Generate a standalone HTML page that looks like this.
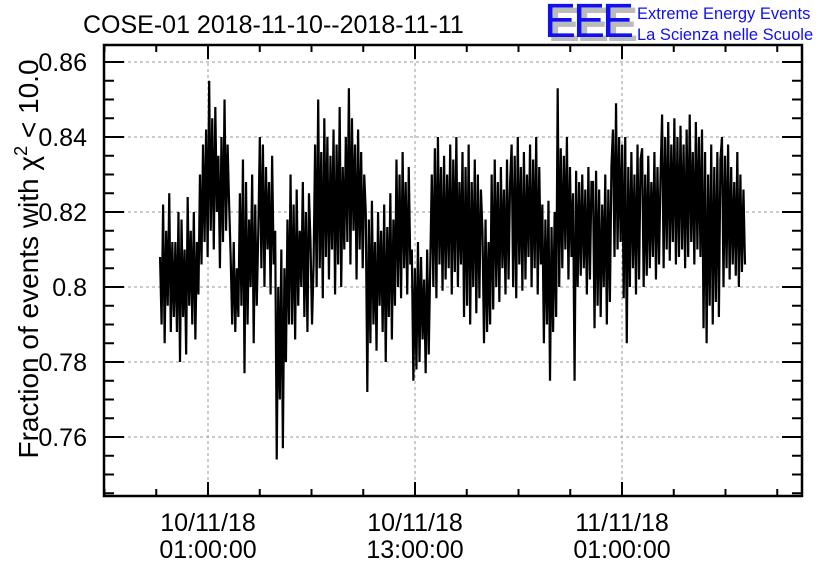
<!DOCTYPE html>
<html><head><meta charset="utf-8"><style>
html,body{margin:0;padding:0;background:#fff;}
svg{display:block;font-family:"Liberation Sans",sans-serif;}
</style></head><body>
<svg id="chart" width="836" height="572" viewBox="0 0 836 572">
<text x="83" y="33" font-size="25" fill="#000">COSE-01 2018-11-10--2018-11-11</text>
<g>
<text x="548" y="41" font-size="48" fill="#bbb" font-weight="bold" letter-spacing="-3">EEE</text>
<text x="544" y="37" font-size="48" fill="#1010f0" letter-spacing="-3">EEE</text>
<text x="637" y="19" font-size="16.5" fill="#1010f0">Extreme Energy Events</text>
<text x="637" y="40" font-size="16.5" fill="#1010f0">La Scienza nelle Scuole</text>
</g>
<text transform="translate(38,259) rotate(-90)" text-anchor="middle" font-size="28" fill="#000">Fraction of events with χ<tspan dy="-11" font-size="18">2</tspan><tspan dy="11"> &lt; 10.0</tspan></text>
<g id="grid"></g>
<g id="series"></g>
<g id="axes"></g>
</svg>
<script>
const yTicks = [0.76, 0.78, 0.80, 0.82, 0.84, 0.86];
const yTickLabels = ["0.76", "0.78", "0.8", "0.82", "0.84", "0.86"];
const xTickHours = [1, 13, 25];
const xTickLabels = [["10/11/18","01:00:00"],["10/11/18","13:00:00"],["11/11/18","01:00:00"]];
const startHour = -1.78;
const endHour = 32.13;
const values = [
808,790,822,785,815,795,825,788,812,792,
812,788,820,780,818,792,810,782,824,795,815,790,820,786,812,798,
830,806,838,812,842,808,855,815,845,810,848,820,835,805,840,812,850,815,838,822,
808,790,812,788,805,792,
825,795,834,777,828,790,818,800,830,785,822,795,815,
840,805,838,800,832,810,828,798,835,806,
815,754,800,770,810,757,805,780,818,790,
830,790,822,786,826,795,815,800,828,792,820,788,825,
812,790,806,
838,800,850,805,836,797,845,808,840,802,835,810,842,798,838,806,848,800,832,810,
840,812,853,806,845,815,838,802,842,810,836,805,830,
820,772,818,785,823,790,812,783,820,795,815,788,822,780,816,792,825,786,818,795,
834,800,830,797,836,805,828,798,832,806,
810,775,805,778,812,780,808,786,802,777,810,782,806,
830,800,837,797,840,806,832,799,835,802,830,805,838,798,834,804,840,800,828,806,
836,792,832,795,838,790,828,800,834,793,830,797,826,
815,785,818,788,812,790,
830,794,834,800,828,796,832,805,826,798,834,802,828,
838,800,835,797,840,806,832,799,836,802,830,808,838,800,834,805,840,798,832,806,
822,785,818,790,823,775,816,788,820,792,
853,800,837,805,835,810,840,802,832,808,
825,775,831,800,828,803,830,805,826,798,832,802,828,
828,789,831,795,826,792,822,800,830,790,826,796,832,
842,808,849,810,840,812,
838,797,840,785,832,800,836,805,830,798,838,802,834,
837,800,830,803,835,805,828,808,836,802,832,806,830,
846,805,840,810,844,807,838,812,845,806,840,808,843,810,838,805,842,808,846,812,836,806,844,810,840,808,
842,789,836,785,830,795,838,790,832,796,836,792,834,
840,800,835,805,838,802,832,806,828,803,836,800,830,804,826,806
].map(v => v / 1000);

const L=104, R=802, T=45, B=496;
const NS="http://www.w3.org/2000/svg";
function xScale(h){ return 208 + (h - 1) * 17.25; }
function yScale(v){ return 62 + (0.86 - v) * 3750; }
function mk(tag, attrs, parent){
  const e=document.createElementNS(NS,tag);
  for(const k in attrs) e.setAttribute(k,attrs[k]);
  parent.appendChild(e); return e;
}
const grid=document.getElementById('grid');
const axes=document.getElementById('axes');
const series=document.getElementById('series');

yTicks.forEach((v,i)=>{
  const y=yScale(v);
  const g=mk('line',{x1:L,x2:R,y1:y,y2:y,stroke:'#999','stroke-dasharray':'3,3','stroke-width':1},grid);
  
  
  const t=mk('text',{x:87,y:y+9,'text-anchor':'end','font-size':25,fill:'#000'},axes);
  t.textContent=yTickLabels[i];
  
  
});
xTickHours.forEach((h,i)=>{
  const x=xScale(h);
  const g=mk('line',{x1:x,x2:x,y1:T,y2:B,stroke:'#999','stroke-dasharray':'3,3','stroke-width':1},grid);
  
  
  const t=mk('text',{x:x,y:531,'text-anchor':'middle','font-size':25,fill:'#000'},axes);
  t.textContent=xTickLabels[i][0];
  
  
  const t2=mk('text',{x:x,y:558,'text-anchor':'middle','font-size':25,fill:'#000'},axes);
  t2.textContent=xTickLabels[i][1];
  
  
});

const n=values.length;
let d='';
for(let i=0;i<n;i++){
  const h=startHour+(endHour-startHour)*i/(n-1);
  d+=(i?'L':'M')+xScale(h).toFixed(2)+','+yScale(values[i]).toFixed(2);
}
const p=mk('path',{d:d,fill:'none',stroke:'#000','stroke-width':2.2,'stroke-linejoin':'miter','stroke-miterlimit':2},series);



let td='';
for(let v=0.745;v<=0.8601;v+=0.005){
  const y=yScale(v);
  const major=Math.abs(Math.round(v*50)-v*50)<1e-6;
  const len=major?20:10;
  td+=`M${L},${y}h${len}M${R},${y}h${-len}`;
}
for(let h=-5;h<=35;h+=3){
  const x=xScale(h);
  if(x<L||x>R) continue;
  const major=((h-1)%12===0);
  const len=major?14:7;
  td+=`M${x},${B}v${-len}M${x},${T}v${len}`;
}
const tk=mk('path',{d:td,stroke:'#000','stroke-width':2,fill:'none'},axes);


const fr=mk('rect',{x:L,y:T,width:R-L,height:B-T,fill:'none',stroke:'#000','stroke-width':2.5},axes);


</script>
</body></html>
